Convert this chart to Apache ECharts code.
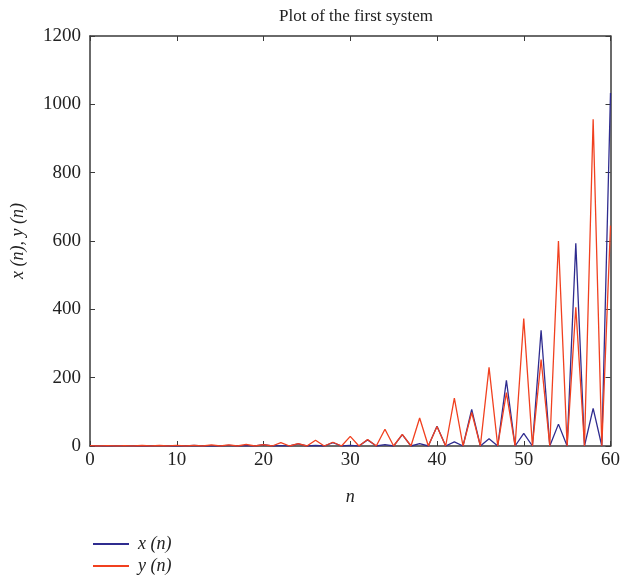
<!DOCTYPE html>
<html>
<head>
<meta charset="utf-8">
<script src="https://cdn.jsdelivr.net/npm/echarts@6/dist/echarts.min.js"></script>
<style>html,body{margin:0;padding:0;background:#fff;}#c{width:623px;height:582px;}</style>
</head>
<body>
<div id="c"></div>
<script>
// n = 0..60
const nValues = Array.from({length: 61}, (_, i) => i);
// x(n): read per n (odd n are zero)
const xSeries = [
  1,0,0.5,0,1,0,0.5,0,1,0,
  0.5,0,1.5,0,0.5,0,2,0,1,0,
  4,0,1,0,6,0,1.5,0,10,0,
  2,0,18,0,4,0,33,0,7,0,
  58,0,12,0,107,0,21,0,192,0,
  37,0,339,0,64,0,593,0,110,0,
  1033
];
// y(n)
const ySeries = [
  1,0,1,0,1,0,1.5,0,1.5,0,
  2,0,2,0,3,0,3,0,5,0,
  4,0,10,0,7,0,17,0,11,0,
  28,0,19,0,49,0,34,0,82,0,
  57,0,140,0,98,0,230,0,156,0,
  373,0,253,0,600,0,406,0,956,0,
  645
];
const xTicks = [0, 10, 20, 30, 40, 50, 60];
const yTicks = [0, 200, 400, 600, 800, 1000, 1200];
const seriesNames = ['x (n)', 'y (n)'];
const seriesColors = ['#2f2c8f', '#f1401f'];

const serif = '"Liberation Serif", "DejaVu Serif", serif';
const axisColor = '#3a3a3a';
const tickCommon = {show: true, inside: true, length: 5, lineStyle: {color: axisColor, width: 1}};
const lineCommon = {show: true, onZero: false, lineStyle: {color: axisColor, width: 1.5}};

const legendBase = (name, top) => ({
  orient: 'vertical', left: 88, top: top,
  itemWidth: 36, itemHeight: 2, icon: 'rect',
  textStyle: {fontFamily: serif, fontSize: 18, fontStyle: 'italic', color: '#222', padding: [0, 0, 0, 4]},
  data: [name]
});

const chart = echarts.init(document.getElementById('c'), null, {renderer: 'canvas'});
chart.setOption({
  backgroundColor: '#fff',
  animation: false,
  title: {
    text: 'Plot of the first system',
    left: 351, textAlign: 'center', top: 3,
    textStyle: {fontFamily: serif, fontSize: 17, fontWeight: 'normal', color: '#222'}
  },
  legend: [legendBase(seriesNames[0], 530), legendBase(seriesNames[1], 552)],
  grid: {left: 90, right: 11, top: 36, bottom: 136},
  xAxis: [{
    type: 'value', min: xTicks[0], max: xTicks[xTicks.length - 1], interval: 10,
    name: 'n', nameLocation: 'middle', nameGap: 42,
    nameTextStyle: {fontFamily: serif, fontSize: 18, fontStyle: 'italic', color: '#222'},
    axisLine: lineCommon, axisTick: tickCommon,
    axisLabel: {fontFamily: serif, fontSize: 19, color: '#222', margin: 5, formatter: v => String(v)},
    splitLine: {show: false}
  }, {
    type: 'value', position: 'top', min: xTicks[0], max: xTicks[xTicks.length - 1], interval: 10,
    axisLine: lineCommon, axisTick: tickCommon,
    axisLabel: {show: false}, splitLine: {show: false}
  }],
  yAxis: [{
    type: 'value', min: yTicks[0], max: yTicks[yTicks.length - 1], interval: 200,
    name: 'x (n), y (n)', nameLocation: 'middle', nameGap: 63,
    nameTextStyle: {fontFamily: serif, fontSize: 18, fontStyle: 'italic', color: '#222'},
    axisLine: lineCommon, axisTick: tickCommon,
    axisLabel: {fontFamily: serif, fontSize: 19, color: '#222', margin: 9, formatter: v => String(v)},
    splitLine: {show: false}
  }, {
    type: 'value', position: 'right', min: yTicks[0], max: yTicks[yTicks.length - 1], interval: 200,
    axisLine: lineCommon, axisTick: tickCommon,
    axisLabel: {show: false}, splitLine: {show: false}
  }],
  series: [{
    name: seriesNames[0], type: 'line', symbol: 'none',
    data: nValues.map((n, i) => [n, xSeries[i]]),
    lineStyle: {color: seriesColors[0], width: 1.3}, itemStyle: {color: seriesColors[0]}
  }, {
    name: seriesNames[1], type: 'line', symbol: 'none',
    data: nValues.map((n, i) => [n, ySeries[i]]),
    lineStyle: {color: seriesColors[1], width: 1.3}, itemStyle: {color: seriesColors[1]}
  }]
});
</script>
</body>
</html>
